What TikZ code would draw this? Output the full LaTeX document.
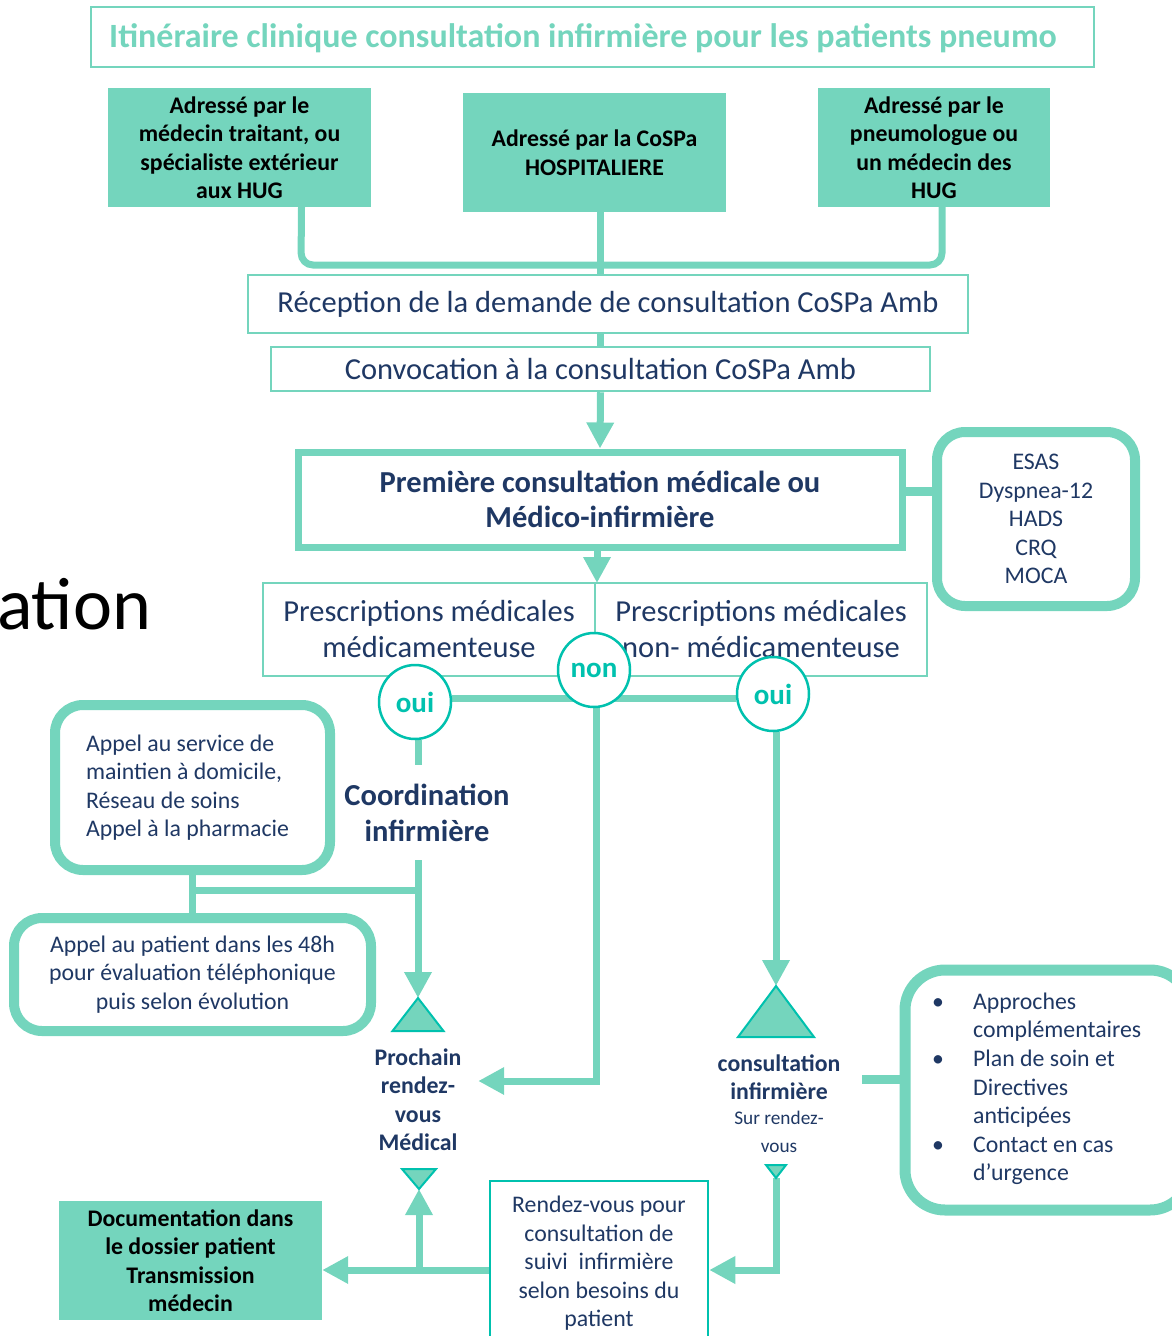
\documentclass[tikz,border=0pt]{standalone}
\usepackage{fontspec}
\setmainfont{Carlito}
\usetikzlibrary{arrows.meta,shapes.geometric}
\definecolor{teal1}{HTML}{74D5BD}
\definecolor{turq}{HTML}{00C1AE}
\definecolor{navy}{HTML}{1F3864}
\pgfdeclarelayer{bg}
\pgfsetlayers{bg,main}
\newcommand{\sfs}{\fontsize{23.8}{28.5}\selectfont}
\newcommand{\lfs}{\fontsize{30.5}{36}\selectfont}
\begin{document}
\begin{tikzpicture}[x=1pt,y=-1pt,
  conn/.style={draw=teal1,line width=7pt},
  arr/.style={conn,-{Triangle[length=26pt,width=26pt]}},
  titlebox/.style={draw=teal1,line width=2pt,minimum width=1003pt,minimum height=60pt,inner sep=0pt},
  fillbox/.style={fill=teal1,draw=none,inner sep=0pt,align=center,text=black,font=\sfs\bfseries},
  thinbox/.style={draw=teal1,line width=2.5pt,fill=white,inner sep=0pt,align=center,text=navy},
  thickbox/.style={draw=teal1,line width=7pt,fill=white,inner sep=0pt,align=center,text=navy},
  roundbox/.style={draw=teal1,line width=10pt,rounded corners=28pt,fill=white,inner sep=0pt,align=center,text=navy,font=\sfs},
  circ/.style={ellipse,draw=turq,line width=2.5pt,fill=white,minimum width=72pt,minimum height=74pt,inner sep=0pt,text=turq,font=\fontsize{29}{34}\selectfont\bfseries},
  tri/.style={fill=teal1,draw=turq,line width=2pt,line join=miter},
  lbl/.style={inner sep=0pt,align=center,text=navy}
]
\useasboundingbox (0,0) rectangle (1171,1336);

% big partial text
\node[anchor=base west,inner sep=0pt,font=\fontsize{74}{80}\selectfont] (ation) at (-3,629) {ation};

% title
\node[titlebox] (title) at (592.5,37) {};
\node[inner sep=0pt,text=teal1,font=\fontsize{34}{38}\selectfont\bfseries] (titletext) at (583,38) {Itinéraire clinique consultation infirmière pour les patients pneumo};

% top boxes
\node[fillbox,minimum width=263pt,minimum height=119pt] (b1) at (239.5,147.5) {Adressé par le\\médecin traitant, ou\\spécialiste extérieur\\aux HUG};
\node[fillbox,minimum width=263pt,minimum height=119pt] (b2) at (594.5,152.5) {Adressé par la CoSPa\\HOSPITALIERE};
\node[fillbox,minimum width=232pt,minimum height=119pt] (b3) at (934,147.5) {Adressé par le\\pneumologue ou\\un médecin des\\HUG};

\node[thinbox,minimum width=720pt,minimum height=58pt,font=\lfs] (rec) at (608,304) {Réception de la demande de consultation CoSPa Amb};
\node[thinbox,minimum width=659pt,minimum height=44pt,font=\lfs] (conv) at (600.5,369) {Convocation à la consultation CoSPa Amb};

\node[thickbox,minimum width=604pt,minimum height=95pt,font=\fontsize{30.5}{35}\selectfont\bfseries] (prem) at (600,499.5) {Première consultation médicale ou\\Médico-infirmière};
\node[roundbox,minimum width=198pt,minimum height=174pt] (esas) at (1036,519) {ESAS\\Dyspnea-12\\HADS\\CRQ\\MOCA};

\node[thinbox,line width=2pt,minimum width=332pt,minimum height=93pt,font=\lfs] (pl) at (429,629.5) {Prescriptions médicales\\médicamenteuse};
\node[thinbox,line width=2pt,minimum width=332pt,minimum height=93pt,font=\lfs] (pr) at (761,629.5) {Prescriptions médicales\\non- médicamenteuse};

\node[circ] (oui1) at (415,702) {oui};
\node[circ] (non) at (594,670) {non};
\node[circ] (oui2) at (773,694) {oui};

\node[lbl,minimum width=180pt,minimum height=95pt,font=\lfs\bfseries] (coord) at (427,812.5) {Coordination\\infirmière};

\node[roundbox,minimum width=275pt,minimum height=165pt,text width=213pt,align=flush left] (appel1) at (192.5,787.5) {Appel au service de\\maintien à domicile,\\Réseau de soins\\Appel à la pharmacie};
\node[roundbox,minimum width=357pt,minimum height=113pt] (appel2) at (192.5,974.5) {Appel au patient dans les 48h\\pour évaluation téléphonique\\puis selon évolution};

% triangles
\coordinate (t1) at (418,998);
\draw[tri] (t1) -- ++(25.5,33) -- ++(-51,0) -- cycle;
\coordinate (t2) at (419,1189);
\draw[tri] (t2) -- ++(-17,-20) -- ++(34,0) -- cycle;
\coordinate (t3) at (776,986);
\draw[tri] (t3) -- ++(38,51) -- ++(-76,0) -- cycle;
\coordinate (t4) at (776,1178);
\draw[tri] (t4) -- ++(-10,-13) -- ++(20,0) -- cycle;

\node[lbl,minimum width=120pt,font=\sfs\bfseries] (proch) at (418,1099.5) {Prochain\\rendez-\\vous\\Médical};

\node[lbl,minimum width=166pt,font=\fontsize{23.8}{28}\selectfont\bfseries] (cons) at (779,1104) {consultation\\infirmière\\[-3pt]{\fontsize{19.3}{24}\selectfont\mdseries Sur rendez-}\\{\fontsize{19.3}{24}\selectfont\mdseries vous}};

\node[fillbox,minimum width=263pt,minimum height=119pt] (doc) at (190.5,1260.5) {Documentation dans\\le dossier patient\\Transmission\\médecin};

\node[thinbox,draw=turq,minimum width=218pt,minimum height=165pt,font=\sfs] (rdv) at (599,1263.5) {Rendez-vous pour\\consultation de\\suivi\ \ infirmière\\selon besoins du\\patient};

\node[roundbox,line width=11pt,rounded corners=40pt,minimum width=285pt,minimum height=240pt] (appr) at (1047.5,1090) {};
\node[lbl,anchor=north west,font=\fontsize{23.8}{28.6}\selectfont] (apprtxt) at (932,989) {\begin{tabular}{@{}p{41pt}@{}l@{}}
\textbullet & Approches\\
 & complémentaires\\
\textbullet & Plan de soin et\\
 & Directives\\
 & anticipées\\
\textbullet & Contact en cas\\
 & d’urgence
\end{tabular}};

% connectors
\begin{pgfonlayer}{bg}
\draw[conn,rounded corners=12pt] ([xshift=62pt]b1.south) -- (301,265) -- (942,265) -- ([xshift=8pt]b3.south);
\draw[conn] ([xshift=5.5pt]b2.south) -- ([xshift=5.5pt]b2.south |- rec.north);
\draw[conn] (conv.north |- rec.south) -- (conv.north);
\draw[arr] (conv.south) -- (prem.north);
\draw[conn,line width=9pt] (prem.east |- 0,491) -- (esas.west |- 0,491);
\draw[arr] (prem.south -| 597,0) -- (597,583);
\draw[conn] (oui1.east |- 0,698) -- (oui2.west |- 0,698);
\draw[conn] (oui1.south -| t1) -- (coord.north -| t1);
\draw[arr] (coord.south -| t1) -- (t1);
\draw[conn] (appel1.south |- 0,890) -- (t1 |- 0,890);
\draw[conn] (appel1.south) -- (appel2.north);
\draw[arr] (non.south -| 596,0) -- (596,1081) -- (proch.east |- 0,1081);
\draw[arr] (oui2.south -| t3) -- (t3);
\draw[conn,line width=9pt] (cons.east |- 0,1079) -- (appr.west |- 0,1079);
\draw[arr] (t4) -- (t4 |- 0,1270) -- (rdv.east |- 0,1270);
\draw[arr] (rdv.west |- 0,1270) -- (doc.east |- 0,1270);
\draw[arr] (t2 |- 0,1270) -- (t2);
\end{pgfonlayer}
\end{tikzpicture}
\end{document}
